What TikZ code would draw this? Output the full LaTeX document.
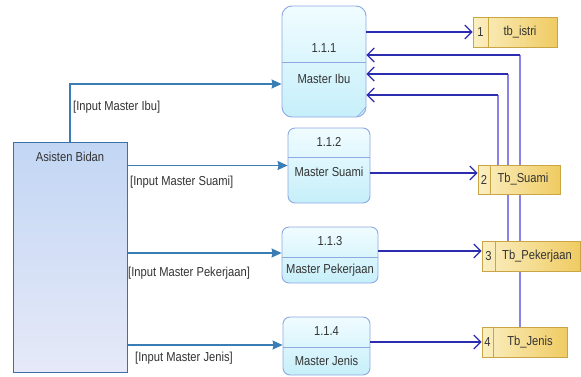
\documentclass[tikz,border=0pt]{standalone}
\usepackage{fontspec}
\setmainfont{Liberation Sans}[FakeStretch=0.86]
\usetikzlibrary{arrows.meta}
\pgfdeclarelayer{background}
\pgfsetlayers{background,main}
\definecolor{inflow}{HTML}{3A7DB5}
\definecolor{stflow}{HTML}{2C2CB0}
\definecolor{stvert}{HTML}{8A82E6}
\definecolor{procborder}{HTML}{8EA8E2}
\definecolor{procTop}{HTML}{F0FCFF}
\definecolor{procBot}{HTML}{C6EFFA}
\definecolor{storeL}{HTML}{FBEFC2}
\definecolor{storeR}{HTML}{EFCB62}
\definecolor{storeB}{HTML}{C9A545}
\definecolor{actTop}{HTML}{C2D6F4}
\definecolor{actBot}{HTML}{E6E9F8}
\definecolor{actB}{HTML}{3D6FA8}
\definecolor{txt}{HTML}{333333}
\tikzset{
  txtstyle/.style={font=\fontsize{13}{14}\selectfont, text=txt, inner sep=0pt},
  procbox/.style={draw=procborder, line width=0.9pt, top color=procTop, bottom color=procBot, rounded corners=7pt, inner sep=0pt},
  storebox/.style={draw=storeB, line width=0.7pt, left color=storeL, right color=storeR, inner sep=0pt},
  actorbox/.style={draw=actB, line width=1pt, top color=actTop, bottom color=actBot, inner sep=0pt},
  inarrow/.style={draw=inflow, line width=1.2pt, -{Stealth[length=10pt,width=9pt,inset=1pt]}},
  starrow/.style={draw=stflow, line width=1.2pt, -{Straight Barb[length=7pt,width=14pt,line width=1.2pt]}},
  stline/.style={draw=stvert, line width=1.4pt},
  divline/.style={draw=procborder, line width=0.9pt},
  sdiv/.style={draw=storeB, line width=0.6pt}
}
\begin{document}
\begin{tikzpicture}[x=1pt,y=-1pt]
\begin{pgfonlayer}{background}
\fill[white] (0,0) rectangle (581,376);
\end{pgfonlayer}
\useasboundingbox (0,0) rectangle (581,376);

% actor
\node[actorbox, minimum width=114pt, minimum height=230pt] (A) at (70,257) {};
\node[txtstyle] (Alab) at (70,157) {Asisten Bidan};

% coordinates for return flows
\coordinate (c1) at (520,55);
\coordinate (c2) at (508,74);
\coordinate (c3) at (498,95);

% processes
\node[procbox, rounded corners=10pt, minimum width=84pt, minimum height=111pt] (p1) at (324,61.5) {};
\node[procbox, minimum width=82pt, minimum height=75pt] (p2) at (329,165.5) {};
\node[procbox, minimum width=96pt, minimum height=56pt] (p3) at (330,255) {};
\node[procbox, minimum width=87pt, minimum height=58pt] (p4) at (326.5,346) {};
\draw[divline] (p1.west |- 0,62) -- (p1.east |- 0,62);
\draw[divline] (p2.west |- 0,157) -- (p2.east |- 0,157);
\draw[divline] (p3.west |- 0,257) -- (p3.east |- 0,257);
\draw[divline] (p4.west |- 0,347) -- (p4.east |- 0,347);
\draw[procborder, line width=0.6pt] (357,117) -- (366,107);
\node[txtstyle] (p1n) at (324,48) {1.1.1};
\node[txtstyle] (p1t) at (324,79) {Master Ibu};
\node[txtstyle] (p2n) at (329,142) {1.1.2};
\node[txtstyle] (p2t) at (329,172) {Master Suami};
\node[txtstyle] (p3n) at (330,241) {1.1.3};
\node[txtstyle] (p3t) at (330,270) {Master Pekerjaan};
\node[txtstyle] (p4n) at (326.5,331) {1.1.4};
\node[txtstyle] (p4t) at (326.5,361) {Master Jenis};

% stores
\node[storebox, minimum width=84pt, minimum height=30pt] (s1) at (515,32) {};
\node[storebox, minimum width=82pt, minimum height=29pt] (s2) at (519,179.5) {};
\node[storebox, minimum width=98pt, minimum height=30pt] (s3) at (531,256) {};
\node[storebox, minimum width=85pt, minimum height=30pt] (s4) at (524.5,342) {};
\draw[sdiv] (488,17) -- (488,47);
\draw[sdiv] (490,165) -- (490,194);
\draw[sdiv] (495,241) -- (495,271);
\draw[sdiv] (493,327) -- (493,357);
\node[txtstyle] (s1n) at (480.5,32) {1};
\node[txtstyle] (s1t) at (520,32) {tb\_istri};
\node[txtstyle] (s2n) at (484,179.5) {2};
\node[txtstyle] (s2t) at (523,179.5) {Tb\_Suami};
\node[txtstyle] (s3n) at (488.5,256) {3};
\node[txtstyle] (s3t) at (537,256) {Tb\_Pekerjaan};
\node[txtstyle] (s4n) at (487.5,342) {4};
\node[txtstyle] (s4t) at (530,342) {Tb\_Jenis};

% vertical return lines (behind stores)
\begin{pgfonlayer}{background}
\draw[stline] (s4.north -| c1) -- (c1);
\draw[stline] (s3.north -| c2) -- (c2);
\draw[stline] (s2.north -| c3) -- (c3);
\end{pgfonlayer}

% return arrows into Master Ibu
\draw[starrow] (c1) -- (p1.east |- c1);
\draw[starrow] (c2) -- (p1.east |- c2);
\draw[starrow] (c3) -- (p1.east |- c3);

% process to store arrows
\draw[starrow] (p1.east |- s1.west) -- (s1.west);
\draw[starrow] (p2.east |- 0,173) -- (s2.west |- 0,173);
\draw[starrow] (p3.east |- 0,251) -- (s3.west |- 0,251);
\draw[starrow] (p4.east |- s4.west) -- (s4.west);

% input flows
\draw[inarrow] (A.north) |- (p1.west |- 0,84);
\draw[inarrow] (A.east |- p2.west) -- (p2.west);
\draw[inarrow] (A.east |- 0,253) -- (p3.west |- 0,253);
\draw[inarrow] (A.east |- 0,345) -- (p4.west |- 0,345);
\node[txtstyle, anchor=west] (l1) at (73,107) {[Input Master Ibu]};
\node[txtstyle, anchor=west] (l2) at (130,182) {[Input Master Suami]};
\node[txtstyle, anchor=west] (l3) at (128,273) {[Input Master Pekerjaan]};
\node[txtstyle, anchor=west] (l4) at (135,358) {[Input Master Jenis]};
\end{tikzpicture}
\end{document}
